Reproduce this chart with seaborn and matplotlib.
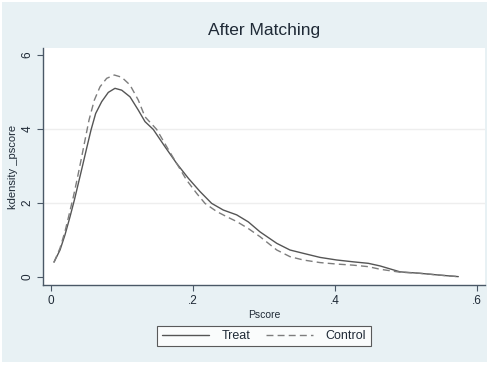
import matplotlib
matplotlib.use("Agg")
import matplotlib.pyplot as plt
from matplotlib.patches import Rectangle
from matplotlib.lines import Line2D
import seaborn as sns
import pandas as pd

# ---- data ----
treat_x = [0.0042, 0.0127, 0.0197, 0.0268, 0.0329, 0.0385, 0.0441, 0.0502, 0.0563,
           0.0629, 0.0714, 0.0807, 0.0901, 0.0996, 0.1113, 0.1230, 0.1324, 0.1440,
           0.1606, 0.1770, 0.1934, 0.2099, 0.2263, 0.2427, 0.2615, 0.2779, 0.2944,
           0.3180, 0.3366, 0.3554, 0.3789, 0.4024, 0.4258, 0.4469, 0.4634, 0.4915,
           0.5197, 0.5479, 0.5737]
treat_y = [0.40, 0.73, 1.14, 1.63, 2.08, 2.53, 2.98, 3.48, 3.97,
           4.42, 4.74, 4.99, 5.10, 5.05, 4.87, 4.51, 4.20, 3.99,
           3.52, 3.07, 2.67, 2.31, 1.99, 1.81, 1.68, 1.49, 1.22,
           0.91, 0.73, 0.64, 0.53, 0.46, 0.41, 0.37, 0.30, 0.14,
           0.10, 0.05, 0.01]

control_x = [0.0042, 0.0127, 0.0197, 0.0254, 0.0315, 0.0371, 0.0423, 0.0479, 0.0535,
             0.0610, 0.0690, 0.0784, 0.0892, 0.0996, 0.1113, 0.1230, 0.1324, 0.1488,
             0.1630, 0.1770, 0.1910, 0.2052, 0.2169, 0.2334, 0.2475, 0.2615, 0.2779,
             0.2944, 0.3180, 0.3366, 0.3554, 0.3789, 0.4024, 0.4258, 0.4469, 0.4634,
             0.4915, 0.5197, 0.5479, 0.5737]
control_y = [0.40, 0.78, 1.23, 1.68, 2.17, 2.67, 3.16, 3.70, 4.24,
             4.78, 5.14, 5.37, 5.46, 5.40, 5.19, 4.78, 4.33, 3.99,
             3.52, 3.07, 2.62, 2.26, 1.99, 1.77, 1.63, 1.50, 1.31,
             1.09, 0.73, 0.55, 0.46, 0.39, 0.35, 0.32, 0.28, 0.21,
             0.13, 0.10, 0.05, 0.01]

x_ticks = [0, 0.2, 0.4, 0.6]
x_ticklabels = ["0", ".2", ".4", ".6"]
y_ticks = [0, 2, 4, 6]
y_ticklabels = ["0", "2", "4", "6"]

title = "After Matching"
xlabel = "Pscore"
ylabel = "kdensity _pscore"
series_names = ["Treat", "Control"]

# ---- styling ----
sns.set_style("white")
plt.rcParams["font.family"] = ["Liberation Sans", "DejaVu Sans"]

BG = "#e8f1f4"
TXT = "#1f2a36"
AX = "#4a5866"

fig = plt.figure(figsize=(4.98, 3.65), dpi=100, facecolor="white")
bg = Rectangle((2 / 498, 3 / 365), 485 / 498, 360 / 365,
               transform=fig.transFigure, facecolor=BG,
               edgecolor="none", zorder=-10)
fig.patches.append(bg)

ax = fig.add_axes([43 / 498, (365 - 285) / 365, 442 / 498, 237 / 365])
ax.set_zorder(1)
ax.set_facecolor("white")

df_t = pd.DataFrame({"x": treat_x, "y": treat_y})
df_c = pd.DataFrame({"x": control_x, "y": control_y})
sns.lineplot(data=df_t, x="x", y="y", ax=ax, color="#555555", linewidth=1.0,
             estimator=None, sort=True)
sns.lineplot(data=df_c, x="x", y="y", ax=ax, color="#7d7d7d", linewidth=1.0,
             estimator=None, sort=True, linestyle=(0, (5, 3)))

ax.set_xlim(-0.01127, 0.6113)
ax.set_ylim(-0.216, 6.19)

for g in [2, 4]:
    ax.axhline(g, color="#eeeeee", linewidth=1.0, zorder=0)

ax.set_xticks(x_ticks)
ax.set_xticklabels(x_ticklabels, fontsize=8.5, color=TXT)
ax.set_yticks(y_ticks)
ax.set_yticklabels(y_ticklabels, fontsize=8.5, color=TXT, rotation=90, va="center")
ax.tick_params(axis="both", direction="out", length=4, width=0.8, color=AX, pad=3)
ax.tick_params(axis="x", bottom=True)
ax.tick_params(axis="y", left=True)

for s in ["top", "right"]:
    ax.spines[s].set_visible(False)
for s in ["left", "bottom"]:
    ax.spines[s].set_color(AX)
    ax.spines[s].set_linewidth(1.0)

ax.set_xlabel(xlabel, fontsize=7.5, color=TXT, labelpad=2)
ax.set_ylabel(ylabel, fontsize=8, color=TXT, labelpad=2.5)

fig.text(0.530, (365 - 31) / 365, title, ha="center", va="center",
         fontsize=12.5, color=TXT)

handles = [Line2D([], [], color="#555555", linewidth=1.0),
           Line2D([], [], color="#7d7d7d", linewidth=1.0, linestyle=(0, (5, 3)))]
leg = fig.legend(handles, series_names, loc="center",
                 bbox_to_anchor=(0.530, (365 - 336) / 365), ncol=2,
                 frameon=True, fancybox=False, edgecolor="#333333",
                 fontsize=9, handlelength=3.8, columnspacing=1.2,
                 handletextpad=1.0, borderpad=0.35)
leg.get_frame().set_linewidth(0.8)
leg.get_frame().set_facecolor("white")
for t in leg.get_texts():
    t.set_color(TXT)

fig.savefig("out.png", dpi=100, facecolor=fig.get_facecolor())
